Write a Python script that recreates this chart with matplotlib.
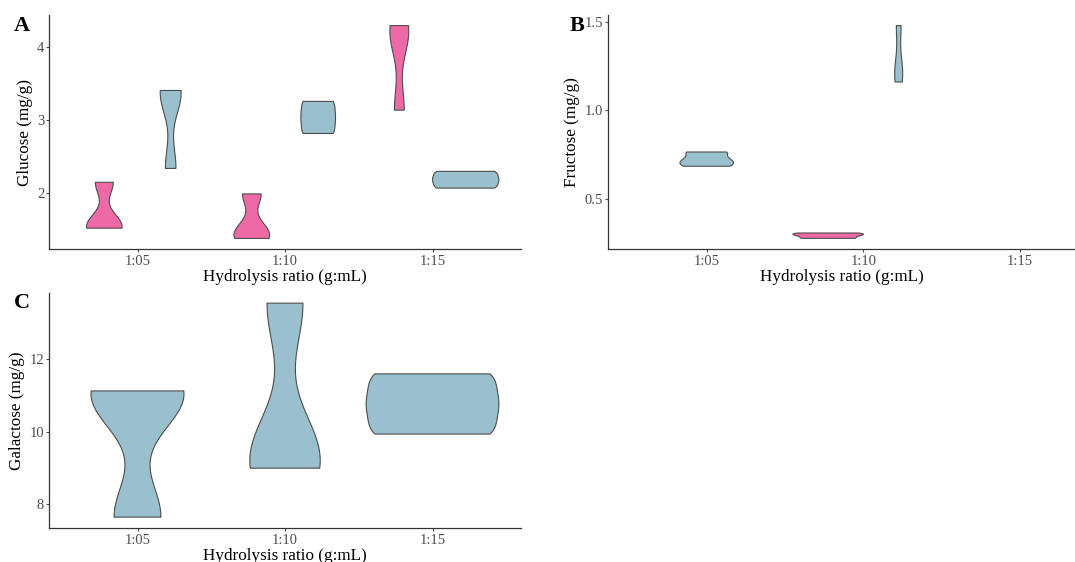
import numpy as np
import matplotlib.pyplot as plt

plt.rcParams['font.family'] = ['Liberation Serif', 'DejaVu Serif']

# Hydrolysis ratios on the x axis
ratios = ['1:05', '1:10', '1:15']
pink = '#EE6AA7'
blue = '#9AC0CD'

glucose_pink = [[1.52, 1.56, 2.15], [1.38, 1.47, 1.99], [3.14, 4.15, 4.30]]
glucose_blue = [[2.34, 3.35, 3.41], [2.82, 3.04, 3.26], [2.07, 2.185, 2.30]]

fructose_pink = [None, [0.28, 0.297, 0.31], None]
fructose_blue = [[0.686, 0.72, 0.766], [1.16, 1.25, 1.477], None]

galactose_blue = [[7.64, 10.95, 11.12], [8.99, 9.40, 13.54], [9.93, 10.76, 11.59]]


def nrd0(x):
    x = np.asarray(x, float)
    sd = x.std(ddof=1)
    q75, q25 = np.percentile(x, [75, 25])
    lo = min(sd, (q75 - q25) / 1.34)
    if lo == 0:
        lo = sd
    return 0.9 * lo * len(x) ** -0.2


def kde(x, n=512):
    x = np.asarray(x, float)
    bw = nrd0(x)
    y = np.linspace(x.min(), x.max(), n)
    d = np.exp(-0.5 * ((y[:, None] - x[None, :]) / bw) ** 2).sum(1)
    d /= len(x) * bw * np.sqrt(2 * np.pi)
    return y, d


def violin_panel(ax, groups):
    # groups: list of (xpos, width, values, colour); scale='area' like ggplot
    dens = [(xp, w, kde(v), c) for xp, w, v, c in groups]
    dmax = max(d.max() for _, _, (_, d), _ in dens)
    for xp, w, (y, d), c in dens:
        half = d / dmax * w / 2
        xs = np.concatenate([xp - half, (xp + half)[::-1]])
        ys = np.concatenate([y, y[::-1]])
        ax.fill(xs, ys, facecolor=c, edgecolor='#4D4D4D', linewidth=0.8,
                joinstyle='round', zorder=2)


def style(ax, ylabel, yticks, yfmt):
    for s in ['top', 'right']:
        ax.spines[s].set_visible(False)
    for s in ['left', 'bottom']:
        ax.spines[s].set_color('#333333')
        ax.spines[s].set_linewidth(0.9)
    ax.set_xticks(range(1, 4))
    ax.set_xticklabels(ratios)
    ax.set_yticks(yticks)
    ax.set_yticklabels([yfmt.format(t) for t in yticks])
    ax.tick_params(length=2.5, width=0.8, color='#4D4D4D', labelcolor='#4D4D4D',
                   labelsize=10.5)
    ax.tick_params(axis='x', pad=2)
    ax.tick_params(axis='y', pad=1)
    ax.set_xlabel('Hydrolysis ratio (g:mL)', fontsize=12.3, labelpad=0.5)
    ax.set_ylabel(ylabel, fontsize=12.3, labelpad=3)


fig = plt.figure(figsize=(10.75, 5.62), dpi=100)

axA = fig.add_axes([49 / 1075, 1 - 249 / 562, 472 / 1075, 234 / 562])
axB = fig.add_axes([608 / 1075, 1 - 249 / 562, 467 / 1075, 234 / 562])
axC = fig.add_axes([49 / 1075, 1 - 528 / 562, 472 / 1075, 235 / 562])

# Panel A: glucose, two dodged groups
gA = []
for i in range(3):
    gA.append((i + 1 - 0.225, 0.45, glucose_pink[i], pink))
    gA.append((i + 1 + 0.225, 0.45, glucose_blue[i], blue))
violin_panel(axA, gA)
axA.set_xlim(0.4, 3.6)
axA.set_ylim(1.234, 4.446)
style(axA, 'Glucose (mg/g)', [2, 3, 4], '{:g}')

# Panel B: fructose, only some groups present
gB = []
for i in range(3):
    p, b = fructose_pink[i], fructose_blue[i]
    if p is not None and b is not None:
        gB.append((i + 1 - 0.225, 0.45, p, pink))
        gB.append((i + 1 + 0.225, 0.45, b, blue))
    elif p is not None:
        gB.append((i + 1, 0.9, p, pink))
    elif b is not None:
        gB.append((i + 1, 0.9, b, blue))
violin_panel(axB, gB)
axB.set_xlim(0.37, 3.35)
axB.set_ylim(0.22, 1.537)
style(axB, 'Fructose (mg/g)', [0.5, 1.0, 1.5], '{:.1f}')

# Panel C: galactose, single group
gC = [(i + 1, 0.9, galactose_blue[i], blue) for i in range(3)]
violin_panel(axC, gC)
axC.set_xlim(0.4, 3.6)
axC.set_ylim(7.34, 13.82)
style(axC, 'Galactose (mg/g)', [8, 10, 12], '{:g}')

for lab, x, y in [('A', 22, 26), ('B', 577, 26), ('C', 22, 303)]:
    fig.text(x / 1075, 1 - y / 562, lab, fontsize=16, fontweight='bold',
             ha='center', va='center')

fig.savefig('out.png', dpi=100)
